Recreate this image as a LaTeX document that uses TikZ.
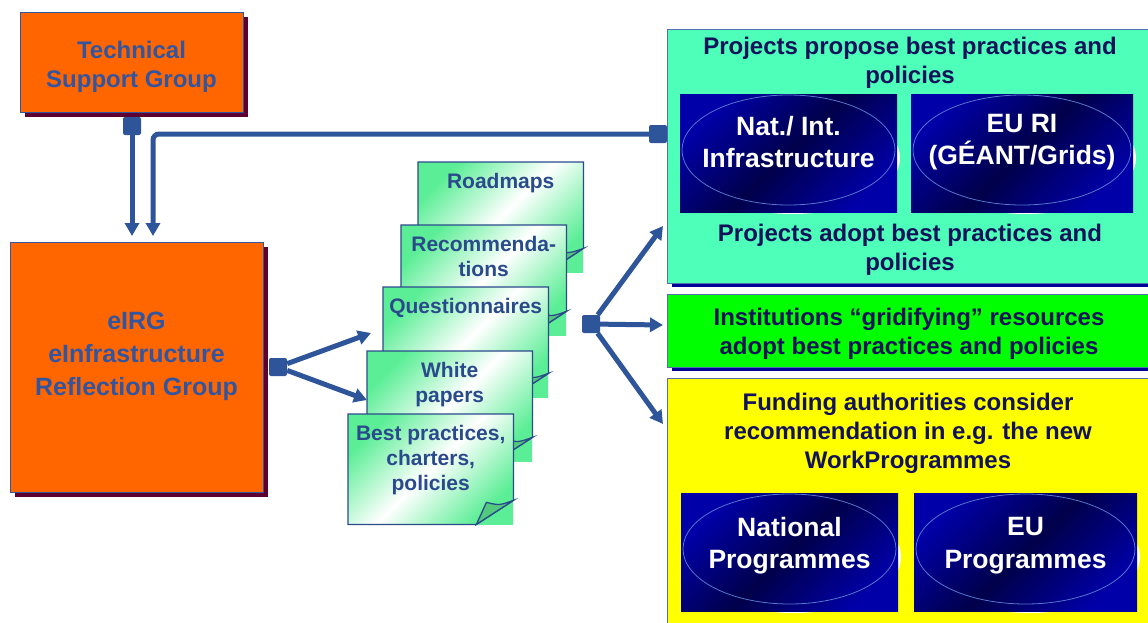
\documentclass[tikz,border=0pt]{standalone}
\usepackage{fontspec}
\setmainfont{Liberation Sans}
\usetikzlibrary{arrows.meta,shadows,calc}
\definecolor{grouporange}{HTML}{FF6600}
\definecolor{groupshadow}{HTML}{5C0033}
\definecolor{groupblue}{HTML}{3355A0}
\definecolor{linkblue}{HTML}{2E5599}
\definecolor{notegreen}{HTML}{5CEE96}
\definecolor{notefold}{HTML}{52C97C}
\definecolor{noteblue}{HTML}{2B4A8C}
\definecolor{projteal}{HTML}{4DFFB8}
\definecolor{instgreen}{HTML}{00FF00}
\definecolor{fundyellow}{HTML}{FFFF00}
\definecolor{panelnavy}{HTML}{000099}
\definecolor{panelline}{HTML}{5070B0}
\definecolor{panelink}{HTML}{12125A}
\definecolor{infradark}{HTML}{00004A}
\definecolor{infrablue}{HTML}{0000A8}
\definecolor{infraring}{HTML}{5577CC}
\tikzset{
  grouplabel/.style={text=groupblue,align=center,inner sep=0,font=\bfseries\fontsize{24}{29}\selectfont},
  notelabel/.style={text=noteblue,align=center,inner sep=0,anchor=north,font=\bfseries\fontsize{21}{25}\selectfont},
  panellabel/.style={text=panelink,align=center,inner sep=0,font=\bfseries\fontsize{24}{29}\selectfont},
  infralabel/.style={text=white,align=center,inner sep=0,font=\bfseries\fontsize{26.5}{32.5}\selectfont},
  note/.style={anchor=north west,minimum width=165pt,minimum height=110pt,inner sep=0,
    top color=notegreen,bottom color=notegreen,middle color=white,shading angle=45},
  infra/.style={inner sep=0,top color=infrablue,bottom color=infrablue,middle color=infradark,shading angle=45},
  link/.style={draw=linkblue,line width=5pt}
}
\newcommand{\drawgroup}{\node[draw=groupblue,fill=grouporange,inner sep=0,
  drop shadow={shadow xshift=5pt,shadow yshift=-5pt,opacity=1,fill=groupshadow}]}
\newcommand{\drawport}{\node[fill=linkblue,inner sep=0,minimum width=18pt,minimum height=18pt,rounded corners=2pt]}
\newcommand{\drawpanel}{\node[draw=panelline,anchor=north west,minimum width=490pt,inner sep=0,
  drop shadow={shadow xshift=5pt,shadow yshift=-4pt,opacity=1,fill=panelnavy}]}
\newcommand{\drawnote}[3]{%
  \node[note] (#1) at (#2) {};
  \draw[noteblue,line width=1.3pt] (#1.north west) -- (#1.north east) -- ([yshift=24pt]#1.south east)
    -- ([xshift=-37pt]#1.south east) -- (#1.south west) -- cycle;
  \filldraw[fill=notefold,draw=noteblue,line width=1.3pt] ([yshift=24pt]#1.south east)
    .. controls ([xshift=-14pt,yshift=19pt]#1.south east) .. ([xshift=-27pt,yshift=22pt]#1.south east)
    -- ([xshift=-37pt]#1.south east) -- cycle;
  \node[notelabel] at ([yshift=-11pt]#1.north) {#3};
}
\newcommand{\drawinfra}[6]{%
  \fill[white] ($(#2)+(4,5)$) ellipse [x radius=#3/2-1pt,y radius=56pt];
  \node[infra,minimum width=#3pt,minimum height=#4pt] (#1) at (#2) {};
  \draw[infraring,line width=0.8pt] ($(#1.center)+(0,-3)$) ellipse [x radius=#3/2-2pt,y radius=55pt];
  \node[infralabel] at ($(#1.center)+(0,#6)$) {#5};
}

\begin{document}
\begin{tikzpicture}[x=1pt,y=-1pt,>={Triangle[length=13pt,width=14pt]}]
\useasboundingbox (0,0) rectangle (1148,622);
%groups on the left
\drawgroup[minimum width=223pt,minimum height=100pt] (tsg) at (131.5,62) {};
\node[grouplabel] (tsgtext) at ([yshift=-5pt]tsg.center) {Technical\\Support Group};
\drawgroup[minimum width=253pt,minimum height=250pt] (eirg) at (136.5,367) {};
\node[grouplabel,font=\bfseries\fontsize{25}{33}\selectfont] (eirgtext) at ([yshift=11pt]eirg.center) {eIRG\\eInfrastructure\\Reflection Group};

%documents
\drawnote{roadmaps}{418,162}{Roadmaps}
\drawnote{recomm}{401,225}{Recommenda-\\tions}
\drawnote{quest}{383,287}{Questionnaires}
\drawnote{white}{367,351}{White\\papers}
\drawnote{bestprac}{348,414}{Best practices,\\charters,\\policies}

%panels on the right
\drawpanel[fill=projteal,minimum height=254pt] (projects) at (667,29) {};
\drawpanel[fill=instgreen,minimum height=73pt] (institutions) at (667,294) {};
\drawpanel[fill=fundyellow,minimum height=260pt] (funding) at (667,378) {};
\node[panellabel] (proposetext) at (910,63) {Projects propose best practices and\\policies};
\node[panellabel] (adopttext) at (910,250) {Projects adopt best practices and\\policies};
\node[panellabel] (insttext) at (909,334) {Institutions “gridifying” resources\\adopt best practices and policies};
\node[panellabel] (fundtext) at (908,433) {Funding authorities consider\\recommendation in e.g. the new\\WorkProgrammes};
\drawinfra{natinfra}{788.5,153}{217}{118}{Nat./ Int.\\Infrastructure}{-11}
\drawinfra{euri}{1022,153}{222}{118}{EU RI\\(GÉANT/Grids)}{-11}
\drawinfra{natprog}{789.5,552}{217}{118}{National\\Programmes}{-6.5}
\drawinfra{euprog}{1025.5,552}{223}{118}{EU\\Programmes}{-6.5}

%connectors
\drawport (tsgport) at (132,126) {};
\drawport (projport) at (658,134) {};
\drawport (eirgport) at (278,367) {};
\drawport (hubport) at (591,324) {};
\coordinate (tsgin) at (132,236);
\coordinate (projin) at (153,236);
\coordinate (questin) at (371,333);
\coordinate (whitein) at (367,400);
\coordinate (projentry) at (663,226);
\coordinate (instentry) at (663,325);
\coordinate (fundentry) at (663,424);

\draw[link,->] (tsgport) -- (tsgin);
\draw[link,->,rounded corners=6pt] (projport) -| (projin);
\draw[link,->] (eirgport) -- (questin);
\draw[link,->] (eirgport) -- (whitein);
\draw[link,->] (hubport) -- (projentry);
\draw[link,->] (hubport) -- (instentry);
\draw[link,->] (hubport) -- (fundentry);
\end{tikzpicture}
\end{document}
